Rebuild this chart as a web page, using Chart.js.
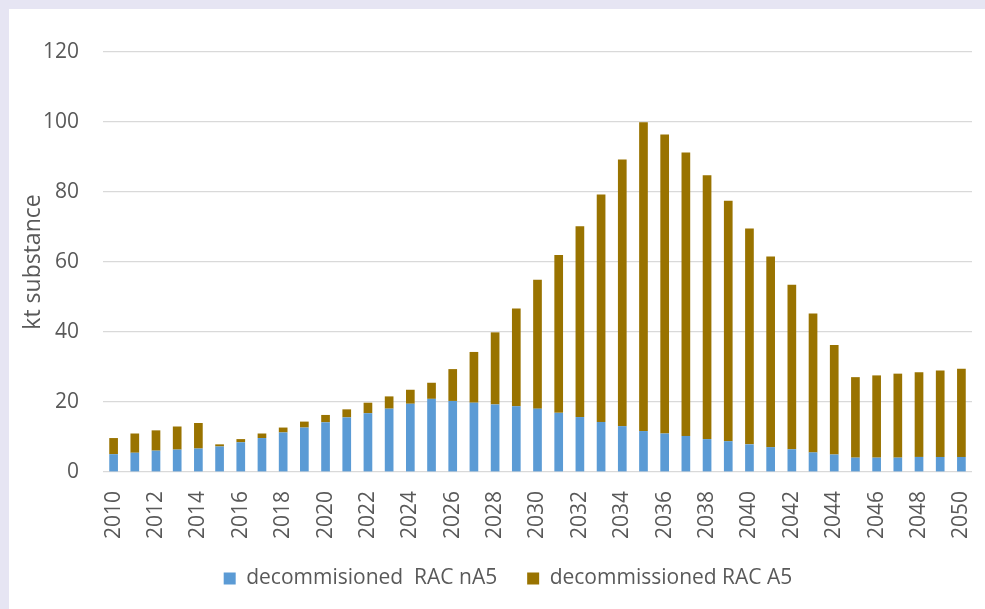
<!DOCTYPE html>
<html>
<head>
<meta charset="utf-8">
<script src="https://cdn.jsdelivr.net/npm/chart.js@4/dist/chart.umd.min.js"></script>
<style>
  html, body { margin: 0; padding: 0; }
  body { width: 985px; height: 609px; background: #E6E5F3; overflow: hidden; position: relative; }
  #chart { position: absolute; left: 9px; top: 9px; background: #ffffff; }
</style>
</head>
<body>
<canvas id="chart" width="976" height="600"></canvas>
<script>
// Decommissioned refrigerant in RAC equipment, kt substance per year
const years = [
  '2010','2011','2012','2013','2014','2015','2016','2017','2018','2019',
  '2020','2021','2022','2023','2024','2025','2026','2027','2028','2029',
  '2030','2031','2032','2033','2034','2035','2036','2037','2038','2039',
  '2040','2041','2042','2043','2044','2045','2046','2047','2048','2049','2050'
];

// non-Article 5 parties
const racNA5 = [
  5.1, 5.5, 6.1, 6.4, 6.7, 7.3, 8.5, 9.7, 11.3, 12.7,
  14.2, 15.6, 16.8, 18.1, 19.5, 20.9, 20.3, 19.8, 19.3, 18.8,
  18.1, 16.9, 15.7, 14.3, 13.1, 11.7, 11.0, 10.3, 9.4, 8.8,
  7.9, 7.1, 6.5, 5.6, 5.0, 4.1, 4.1, 4.1, 4.3, 4.3, 4.3
];

// Article 5 parties
const racA5 = [
  4.6, 5.5, 5.8, 6.6, 7.3, 0.6, 0.9, 1.3, 1.4, 1.7,
  2.1, 2.3, 3.0, 3.5, 4.0, 4.6, 9.1, 14.5, 20.6, 27.9,
  36.8, 45.1, 54.5, 65.0, 76.2, 88.2, 85.4, 81.0, 75.4, 68.7,
  61.7, 54.5, 47.0, 39.7, 31.3, 23.0, 23.5, 24.0, 24.2, 24.7, 25.2
];

const yTicks = [0, 20, 40, 60, 80, 100, 120];

const textColor = '#595959';
const family = '"Open Sans", "Noto Sans", sans-serif';

new Chart(document.getElementById('chart'), {
  type: 'bar',
  data: {
    labels: years,
    datasets: [
      {
        label: 'decommisioned  RAC nA5',
        data: racNA5,
        backgroundColor: '#5B9BD5',
        borderWidth: 0,
        barPercentage: 0.41,
        categoryPercentage: 1.0
      },
      {
        label: 'decommissioned RAC A5',
        data: racA5,
        backgroundColor: '#997300',
        borderWidth: 0,
        barPercentage: 0.41,
        categoryPercentage: 1.0
      }
    ]
  },
  options: {
    responsive: false,
    animation: false,
    devicePixelRatio: 1,
    layout: { padding: { left: 35, right: 13, top: 43, bottom: 10 } },
    plugins: {
      tooltip: { enabled: false },
      legend: {
        position: 'bottom',
        labels: {
          boxWidth: 12,
          boxHeight: 12,
          padding: 30,
          color: textColor,
          font: { family: family, size: 21 }
        }
      }
    },
    scales: {
      x: {
        stacked: true,
        grid: { display: false },
        border: { display: false },
        ticks: {
          autoSkip: false,
          minRotation: 90,
          maxRotation: 90,
          padding: 11,
          color: textColor,
          font: { family: family, size: 21 },
          callback: function (value, index) {
            return index % 2 === 0 ? years[index] : '';
          }
        },
        afterFit: function (scale) {
          scale.height = 66;
          scale.paddingLeft = 0;
          scale.paddingRight = 0;
        }
      },
      y: {
        stacked: true,
        min: yTicks[0],
        max: yTicks[yTicks.length - 1],
        grid: { color: '#D9D9D9', lineWidth: 1.2, drawTicks: false },
        border: { display: false },
        afterBuildTicks: function (scale) {
          scale.ticks = yTicks.map(v => ({ value: v }));
        },
        ticks: {
          padding: 24,
          color: textColor,
          font: { family: family, size: 21 }
        },
        title: {
          display: true,
          text: 'kt substance',
          color: textColor,
          padding: { top: -24, bottom: 0 },
          font: { family: family, size: 23 }
        },
        afterFit: function (scale) {
          scale.width = 59;
          scale.paddingTop = 0;
          scale.paddingBottom = 0;
        }
      }
    }
  }
});
</script>
</body>
</html>
